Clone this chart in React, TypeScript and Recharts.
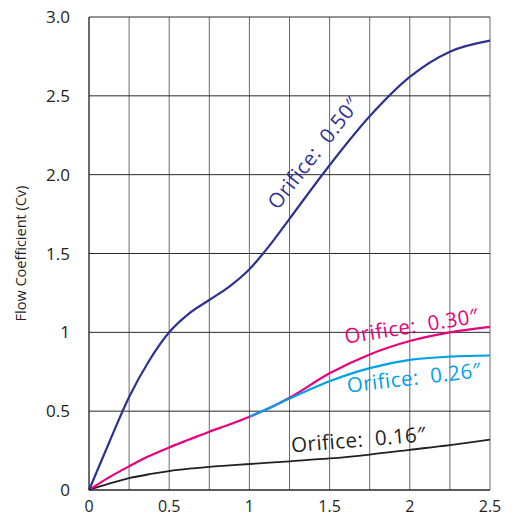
import React from "react";
import {
  LineChart, Line, XAxis, YAxis, CartesianGrid, ReferenceDot,
} from "recharts";

// pressure drop steps (x)
const xValues = [0, 0.125, 0.25, 0.375, 0.5, 0.625, 0.75, 0.875, 1, 1.125, 1.25, 1.5, 1.75, 2, 2.25, 2.5];

// Cv per orifice size
const orifice050 = [0, 0.3, 0.59, 0.82, 1.0, 1.12, 1.205, 1.29, 1.4, 1.55, 1.72, 2.06, 2.37, 2.62, 2.78, 2.85];
const orifice030 = [0, 0.08, 0.15, 0.215, 0.27, 0.32, 0.37, 0.415, 0.465, 0.52, 0.585, 0.74, 0.86, 0.945, 1.0, 1.035];
const orifice026 = [null, null, null, null, null, null, null, null, 0.465, 0.52, 0.58, 0.69, 0.773, 0.825, 0.846, 0.853];
const orifice016 = [0, 0.04, 0.075, 0.1, 0.12, 0.135, 0.147, 0.156, 0.165, 0.173, 0.182, 0.2, 0.225, 0.255, 0.285, 0.32];

const xTicks = [0, 0.25, 0.5, 0.75, 1, 1.25, 1.5, 1.75, 2, 2.25, 2.5];
const xTickLabels: Record<string, string> = { "0": "0", "0.5": "0.5", "1": "1", "1.5": "1.5", "2": "2", "2.5": "2.5" };
const yTicks = [0, 0.5, 1, 1.5, 2, 2.5, 3];
const yTickLabels = ["0", "0.5", "1", "1.5", "2.0", "2.5", "3.0"];

// curve labels: text, centre (x, y) in data units, angle
const curveLabels = [
  { text: "Orifice:\u00a0\u00a00.50″", x: 1.397, y: 2.14, angle: -52, color: "#2e3192" },
  { text: "Orifice:\u00a0\u00a00.30″", x: 2.01, y: 1.044, angle: -9, color: "#e6007e" },
  { text: "Orifice:\u00a0\u00a00.26″", x: 2.026, y: 0.717, angle: -6.6, color: "#00a0e9" },
  { text: "Orifice:\u00a0\u00a00.16″", x: 1.68, y: 0.324, angle: -4.7, color: "#231f20" },
];

const data = xValues.map((x, i) => ({
  x,
  o50: orifice050[i],
  o30: orifice030[i],
  o26: orifice026[i],
  o16: orifice016[i],
}));

const FONT = "'Open Sans', 'DejaVu Sans', sans-serif";

const YLabel = (props: any) => {
  const { viewBox } = props;
  const cx = viewBox.x + 20;
  const cy = viewBox.y + viewBox.height / 2;
  return (
    <text x={cx} y={cy} transform={`rotate(-90 ${cx} ${cy})`} textAnchor="middle"
      dominantBaseline="central" fontSize={14.5} fill="#231f20" fontFamily={FONT}>
      Flow Coefficient (Cv)
    </text>
  );
};

// x tick drawn on its baseline so it stays inside the picture
const XTick = (props: any) => {
  const { x, y, payload } = props;
  const label = xTickLabels[String(payload.value)];
  if (!label) return null;
  return (
    <text x={x} y={y + 11} textAnchor="middle" fontSize={16} fill="#231f20" fontFamily={FONT}>
      {label}
    </text>
  );
};

const App: React.FC = () => {
  return (
    <div style={{ position: "absolute", left: 0, top: 0, background: "#fff" }}>
      <LineChart width={519} height={516} data={data} margin={{ top: 17, right: 29, bottom: 0, left: 0 }}>
        <CartesianGrid horizontal={false} stroke="#6a6a6a" strokeWidth={1} />
        <CartesianGrid vertical={false} stroke="#2a2a2a" strokeWidth={1} />
        <XAxis
          dataKey="x" type="number" domain={[0, 2.5]} ticks={xTicks} interval={0}
          tickLine={false} tickSize={6} tickMargin={5} height={26}
          axisLine={{ stroke: "#222" }}
          tick={<XTick />}
        />
        <YAxis
          type="number" domain={[0, 3]} ticks={yTicks} interval={0} width={89}
          tickFormatter={(v: number) => yTickLabels[yTicks.indexOf(v)]}
          tickLine={false} tickSize={6} tickMargin={13}
          axisLine={{ stroke: "#222" }}
          tick={{ fontSize: 17, fill: "#231f20", fontFamily: FONT }}
          label={<YLabel />}
        />
        <Line type="monotone" dataKey="o16" stroke="#231f20" strokeWidth={1.8} dot={false} isAnimationActive={false} />
        <Line type="monotone" dataKey="o30" stroke="#e6007e" strokeWidth={2.2} dot={false} isAnimationActive={false} />
        <Line type="monotone" dataKey="o26" stroke="#00a0e9" strokeWidth={2.2} dot={false} isAnimationActive={false} />
        <Line type="monotone" dataKey="o50" stroke="#2e3192" strokeWidth={2.2} dot={false} isAnimationActive={false} />
        {curveLabels.map((l) => (
          <ReferenceDot
            key={l.color} x={l.x} y={l.y} r={0}
            shape={(p: any) => (
              <text x={p.cx} y={p.cy} transform={`rotate(${l.angle} ${p.cx} ${p.cy})`}
                textAnchor="middle" dominantBaseline="central" fontSize={20.5} letterSpacing={0.5}
                fill={l.color} fontFamily={FONT}>
                {l.text}
              </text>
            )}
          />
        ))}
      </LineChart>
    </div>
  );
};

export default App;
